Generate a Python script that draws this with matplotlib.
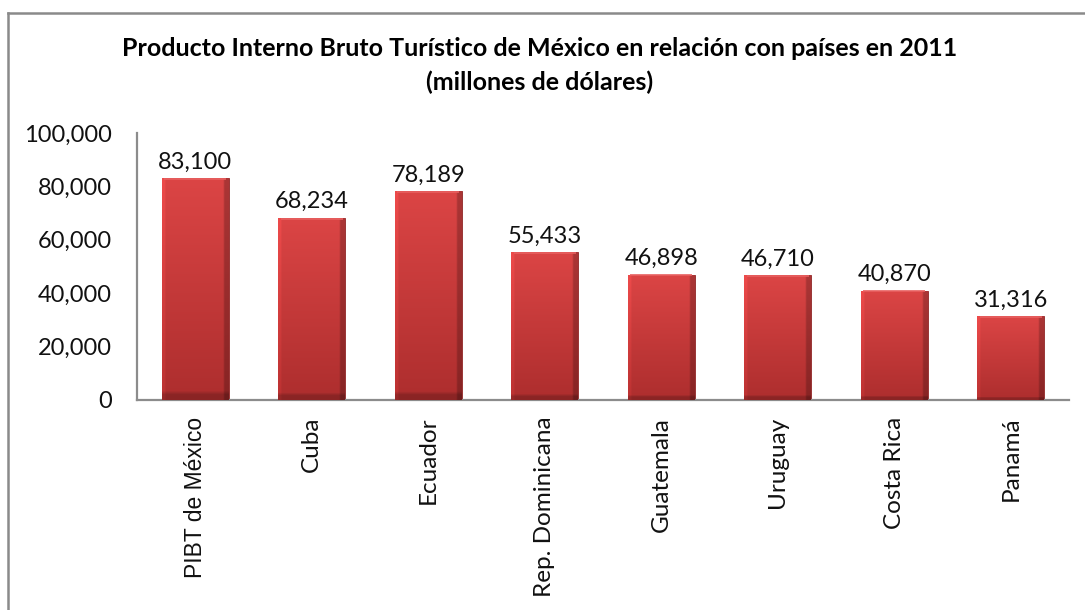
import numpy as np
import matplotlib
matplotlib.use('Agg')
import matplotlib.pyplot as plt
from matplotlib.lines import Line2D
from matplotlib.ticker import FuncFormatter

plt.rcParams['font.family'] = ['Lato', 'DejaVu Sans']

categories = ['PIBT de México', 'Cuba', 'Ecuador', 'Rep. Dominicana',
              'Guatemala', 'Uruguay', 'Costa Rica', 'Panamá']
values = [83100, 68234, 78189, 55433, 46898, 46710, 40870, 31316]
y_ticks = [0, 20000, 40000, 60000, 80000, 100000]

title = ('Producto Interno Bruto Turístico de México en relación con países en 2011\n'
         '(millones de dólares)')

fig = plt.figure(figsize=(10.85, 6.1), dpi=100)
ax = fig.add_axes([137 / 1085, 1 - 400 / 610, (1069 - 137) / 1085, (400 - 133) / 610])

x = np.arange(len(categories))
bars = ax.bar(x, values, width=0.575, color='#c83a3a', edgecolor='#8e2626', linewidth=0.6, zorder=2)

# gradient fill for the bars (top lighter, bottom darker, darker right edge)
ny, nx = 60, 40
yy = np.linspace(0, 1, ny)[:, None]          # 0 = top, 1 = bottom
xx = np.linspace(0, 1, nx)[None, :]
top = np.array([0.86, 0.27, 0.27])
bot = np.array([0.68, 0.18, 0.18])
img = top * (1 - yy[..., None]) + bot * yy[..., None]
img = img * np.ones((ny, nx, 1))
shade = np.ones((ny, nx))
shade[:, xx[0] > 0.93] *= 0.78
shade[:, xx[0] < 0.04] *= 1.08
shade[yy[:, 0] > 0.97, :] *= 0.8
img = np.clip(img * shade[..., None], 0, 1)

for b in bars:
    x0, w, h = b.get_x(), b.get_width(), b.get_height()
    im = ax.imshow(img, extent=(x0, x0 + w, 0, h), aspect='auto', zorder=3,
                   interpolation='bilinear')
    im.set_clip_path(b)
    # light bevel along the top
    ax.plot([x0 + w * 0.04, x0 + w * 0.96], [h * 0.995, h * 0.995], color='#e86060',
            lw=1.2, zorder=4, solid_capstyle='butt')

ax.bar_label(bars, labels=[f'{v:,}' for v in values], padding=4, fontsize=17, color='#111111')

ax.set_xlim(-0.5, len(categories) - 0.5)
ax.set_ylim(0, 100000)
ax.set_yticks(y_ticks)
ax.yaxis.set_major_formatter(FuncFormatter(lambda v, p: f'{int(v):,}'))
ax.set_xticks(x)
ax.set_xticklabels(categories, rotation=90, fontsize=17.5)
ax.get_xticklabels()[0].set_fontfamily(['Liberation Sans', 'DejaVu Sans'])
ax.get_xticklabels()[0].set_fontsize(16.5)
ax.tick_params(axis='both', length=0, colors='#111111')
ax.tick_params(axis='y', pad=18, labelsize=17)
ax.tick_params(axis='x', pad=12)

for side in ['top', 'right']:
    ax.spines[side].set_visible(False)
for side in ['left', 'bottom']:
    ax.spines[side].set_color('#8c8c8c')
    ax.spines[side].set_linewidth(1.6)

fig.text(540 / 1085, 1 - 65.5 / 610, title, ha='center', va='center',
         fontsize=18, fontweight='bold', linespacing=1.5)

# outer chart border (left and top edges visible)
fig.add_artist(Line2D([8 / 1085, 8 / 1085], [0, 1 - 13 / 610], transform=fig.transFigure,
                      color='#8a8a8a', lw=1.8))
fig.add_artist(Line2D([8 / 1085, 1], [1 - 13 / 610, 1 - 13 / 610], transform=fig.transFigure,
                      color='#8a8a8a', lw=1.8))

fig.savefig('out.png', dpi=100)
